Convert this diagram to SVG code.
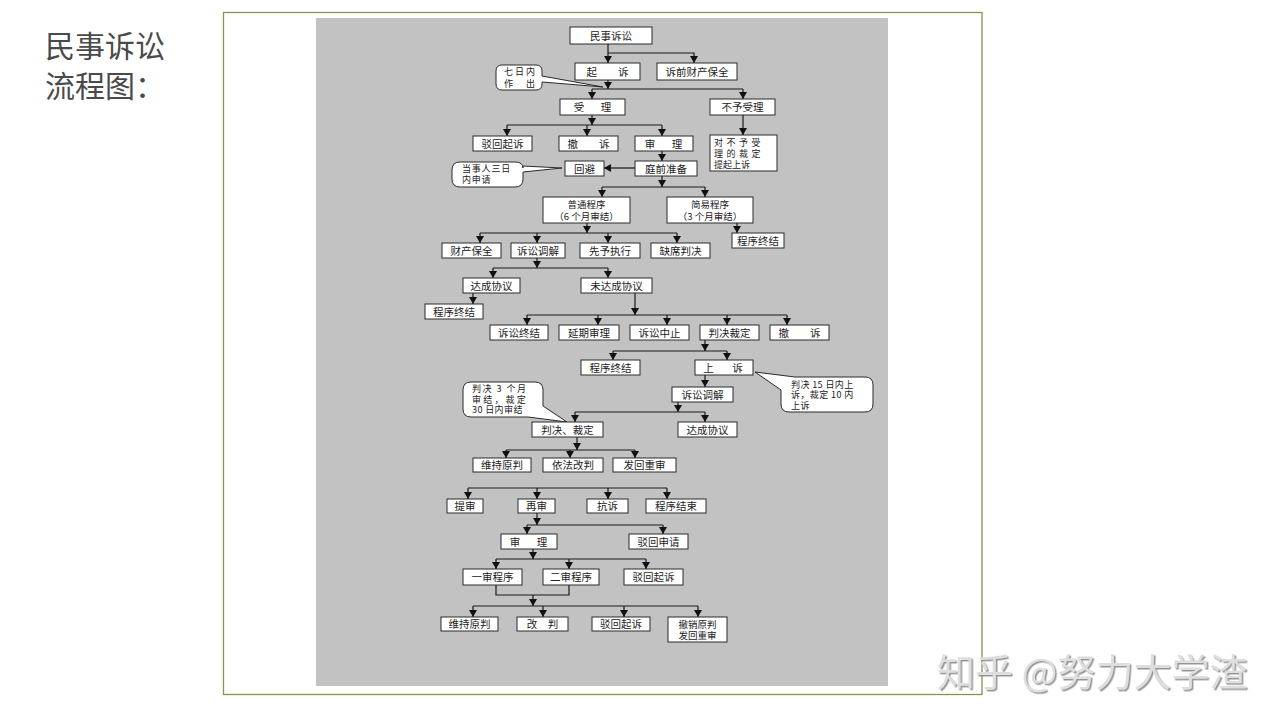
<svg xmlns="http://www.w3.org/2000/svg" width="1280" height="720" viewBox="0 0 1280 720">
<defs>
<marker id="ah" markerUnits="userSpaceOnUse" markerWidth="8" markerHeight="8" refX="7" refY="4" orient="auto" viewBox="0 0 8 8">
<path d="M0,0 L7,4 L0,8 Z" fill="#111"/>
</marker>
<filter id="ws" x="-5%" y="-20%" width="110%" height="140%">
<feDropShadow dx="1.5" dy="1.5" stdDeviation="0.6" flood-color="#8a8a8a" flood-opacity="0.9"/>
</filter>
<style>
.b{fill:#fff;stroke:#2a2a2a;stroke-width:1}
.t{font-family:"Noto Sans CJK SC","Noto Sans",sans-serif;font-size:10.5px;fill:#222;text-anchor:middle}
.t2{font-family:"Noto Sans CJK SC","Noto Sans",sans-serif;font-size:9.5px;fill:#222;text-anchor:middle}
.tl{font-family:"Noto Sans CJK SC","Noto Sans",sans-serif;font-size:9px;fill:#222}
.c{fill:none;stroke:#1a1a1a;stroke-width:1.2}
.a{marker-end:url(#ah)}
.ttl{font-family:"Noto Sans CJK SC","Noto Sans",sans-serif;font-size:30px;fill:#4a4a4a}
</style>
</defs>
<rect x="0" y="0" width="1280" height="720" fill="#fff"/>
<rect x="223.5" y="12.5" width="758.5" height="682" fill="#fff" stroke="#8a9150" stroke-width="1.3"/>
<rect x="316" y="18" width="572" height="668" fill="#c2c2c2"/>
<g id="title">
<text class="ttl" x="45" y="57">民事诉讼</text>
<text class="ttl" x="45" y="97">流程图：</text>
</g>
<g id="connectors">
<path class="c a" d="M608,44 V63"/>
<path class="c a" d="M608,53 H694 V63"/>
<path class="c a" d="M608,80 V89"/>
<path class="c" d="M592,89 H743"/>
<path class="c a" d="M592,89 V99"/>
<path class="c a" d="M743,89 V99"/>
<path class="c a" d="M592,115 V125"/>
<path class="c" d="M507,125 H662"/>
<path class="c a" d="M507,125 V136"/>
<path class="c a" d="M587,125 V136"/>
<path class="c a" d="M662,125 V136"/>
<path class="c a" d="M743,115 V135"/>
<path class="c a" d="M662,151 V161"/>
<path class="c a" d="M635,168 H604"/>
<path class="c a" d="M662,176 V187"/>
<path class="c" d="M602,187 H705"/>
<path class="c a" d="M602,187 V197"/>
<path class="c a" d="M705,187 V197"/>
<path class="c a" d="M587,223 V233"/>
<path class="c" d="M480,233 H677"/>
<path class="c a" d="M480,233 V243"/>
<path class="c a" d="M537,233 V243"/>
<path class="c a" d="M608,233 V243"/>
<path class="c a" d="M677,233 V243"/>
<path class="c a" d="M737,223 V233"/>
<path class="c a" d="M537,258 V268"/>
<path class="c" d="M493,268 H608"/>
<path class="c a" d="M493,268 V278"/>
<path class="c a" d="M608,268 V278"/>
<path class="c a" d="M473,293 V304"/>
<path class="c a" d="M635,293 V315"/>
<path class="c" d="M527,315 H787"/>
<path class="c a" d="M527,315 V325"/>
<path class="c a" d="M598,315 V325"/>
<path class="c a" d="M667,315 V325"/>
<path class="c a" d="M727,315 V325"/>
<path class="c a" d="M787,315 V325"/>
<path class="c a" d="M705,340 V351"/>
<path class="c" d="M613,351 H727"/>
<path class="c a" d="M613,351 V360"/>
<path class="c a" d="M727,351 V360"/>
<path class="c a" d="M705,375 V387"/>
<path class="c a" d="M678,402 V412"/>
<path class="c" d="M575,412 H705"/>
<path class="c a" d="M575,412 V422"/>
<path class="c a" d="M705,412 V422"/>
<path class="c a" d="M577,437 V450"/>
<path class="c" d="M506,450 H635"/>
<path class="c a" d="M506,450 V458"/>
<path class="c a" d="M570,450 V458"/>
<path class="c a" d="M635,450 V458"/>
<path class="c" d="M468,488 H667"/>
<path class="c a" d="M468,488 V499"/>
<path class="c a" d="M537,488 V499"/>
<path class="c a" d="M608,488 V499"/>
<path class="c a" d="M667,488 V499"/>
<path class="c a" d="M537,513 V525"/>
<path class="c" d="M527,525 H663"/>
<path class="c a" d="M527,525 V534"/>
<path class="c a" d="M663,525 V534"/>
<path class="c a" d="M533,549 V559"/>
<path class="c" d="M496,559 H646"/>
<path class="c a" d="M496,559 V569"/>
<path class="c a" d="M569,559 V569"/>
<path class="c a" d="M646,559 V569"/>
<path class="c" d="M496,585 V595 H569 V585"/>
<path class="c a" d="M533,595 V606"/>
<path class="c" d="M473,606 H698"/>
<path class="c a" d="M473,606 V617"/>
<path class="c a" d="M543,606 V617"/>
<path class="c a" d="M624,606 V617"/>
<path class="c a" d="M698,606 V617"/>
</g>
<g id="n-minshi"><rect class="b" x="570" y="27" width="82" height="17"/><text class="t" x="611" y="39.5">民事诉讼</text></g>
<g id="n-qisu"><rect class="b" x="575" y="63" width="65" height="17"/><text class="t" x="607.5" y="75.5">起　　诉</text></g>
<g id="n-suqian"><rect class="b" x="657" y="63" width="80" height="17"/><text class="t" x="697" y="75.5">诉前财产保全</text></g>
<g id="callout-7days"><path class="b" d="M502,65 H536 Q542,65 542,71 V76 L603,87 L542,82 V84 Q542,90 536,90 H502 Q496,90 496,84 V71 Q496,65 502,65 Z"/><text class="tl" x="504" y="75" font-size="8.5" letter-spacing="2">七日内</text><text class="tl" x="504" y="86.5" font-size="8.5" letter-spacing="2">作　出</text></g>
<g id="n-shouli"><rect class="b" x="560" y="99" width="65" height="16"/><text class="t" x="594" y="111" letter-spacing="3">受　理</text></g>
<g id="n-buyu"><rect class="b" x="710" y="99" width="65" height="16"/><text class="t" x="742.5" y="111">不予受理</text></g>
<g id="n-bohui1"><rect class="b" x="473" y="136" width="59" height="15"/><text class="t" x="502.5" y="147.5">驳回起诉</text></g>
<g id="n-chesu1"><rect class="b" x="559" y="136" width="59" height="15"/><text class="t" x="588.5" y="147.5">撤　　诉</text></g>
<g id="n-shenli1"><rect class="b" x="635" y="136" width="58" height="15"/><text class="t" x="665" y="147.5" letter-spacing="3">审　理</text></g>
<g id="n-duibuyu"><rect class="b" x="710" y="135" width="67" height="36"/><text class="tl" x="714" y="146" font-size="9.5" letter-spacing="3.5">对不予受</text><text class="tl" x="714" y="157" font-size="9.5" letter-spacing="3.5">理的裁定</text><text class="tl" x="714" y="168" font-size="9.5">提起上诉</text></g>
<g id="callout-huibi"><path class="b" d="M460,162 H515 Q523,162 523,168 V166 L562,168 L523,172 V179 Q523,187 515,187 H460 Q452,187 452,179 V170 Q452,162 460,162 Z"/><text class="tl" x="462" y="172" letter-spacing="0.8">当事人三日</text><text class="tl" x="462" y="183" letter-spacing="0.8">内申请</text></g>
<g id="n-huibi"><rect class="b" x="565" y="161" width="39" height="15"/><text class="t" x="584.5" y="172.5">回避</text></g>
<g id="n-tingqian"><rect class="b" x="635" y="161" width="62" height="15"/><text class="t" x="666" y="172.5">庭前准备</text></g>
<g id="n-putong"><rect class="b" x="543" y="197" width="87" height="26"/><text class="t2" x="586.5" y="208">普通程序</text><text class="t2" x="586.5" y="219.5">（6 个月审结）</text></g>
<g id="n-jianyi"><rect class="b" x="667" y="197" width="86" height="26"/><text class="t2" x="710" y="208">简易程序</text><text class="t2" x="710" y="219.5">（3 个月审结）</text></g>
<g id="n-caichan"><rect class="b" x="442" y="243" width="59" height="15"/><text class="t" x="471.5" y="254.5">财产保全</text></g>
<g id="n-tiaojie1"><rect class="b" x="511" y="243" width="54" height="15"/><text class="t" x="538" y="254.5">诉讼调解</text></g>
<g id="n-xianyu"><rect class="b" x="580" y="243" width="60" height="15"/><text class="t" x="610" y="254.5">先予执行</text></g>
<g id="n-quexi"><rect class="b" x="651" y="243" width="59" height="15"/><text class="t" x="680.5" y="254.5">缺席判决</text></g>
<g id="n-zhongjie-r"><rect class="b" x="732" y="233" width="52" height="15"/><text class="t" x="758" y="244.5">程序终结</text></g>
<g id="n-dacheng1"><rect class="b" x="463" y="278" width="57" height="15"/><text class="t" x="491.5" y="289.5">达成协议</text></g>
<g id="n-weidacheng"><rect class="b" x="581" y="278" width="71" height="15"/><text class="t" x="616.5" y="289.5">未达成协议</text></g>
<g id="n-zhongjie-l"><rect class="b" x="425" y="304" width="58" height="15"/><text class="t" x="454" y="315.5">程序终结</text></g>
<g id="n-susongzhongjie"><rect class="b" x="490" y="325" width="58" height="15"/><text class="t" x="519" y="336.5">诉讼终结</text></g>
<g id="n-yanqi"><rect class="b" x="559" y="325" width="60" height="15"/><text class="t" x="589" y="336.5">延期审理</text></g>
<g id="n-zhongzhi"><rect class="b" x="630" y="325" width="59" height="15"/><text class="t" x="659.5" y="336.5">诉讼中止</text></g>
<g id="n-panjue1"><rect class="b" x="700" y="325" width="59" height="15"/><text class="t" x="729.5" y="336.5">判决裁定</text></g>
<g id="n-chesu2"><rect class="b" x="770" y="325" width="59" height="15"/><text class="t" x="799.5" y="336.5">撤　　诉</text></g>
<g id="n-zhongjie-m"><rect class="b" x="581" y="360" width="59" height="15"/><text class="t" x="610.5" y="371.5">程序终结</text></g>
<g id="n-shangsu"><rect class="b" x="695" y="360" width="58" height="15"/><text class="t" x="725" y="371.5" letter-spacing="4">上　诉</text></g>
<g id="callout-shangsu"><path class="b" d="M781,390 L755,372 L795,377 H865 Q873,377 873,385 V404 Q873,412 865,412 H789 Q781,412 781,404 Z"/><text class="tl" x="791" y="387.5" letter-spacing="0.4">判决 15 日内上</text><text class="tl" x="791" y="398" letter-spacing="0.4">诉，裁定 10 内</text><text class="tl" x="791" y="408.5" letter-spacing="0.4">上诉</text></g>
<g id="n-tiaojie2"><rect class="b" x="672" y="387" width="61" height="15"/><text class="t" x="702.5" y="398.5">诉讼调解</text></g>
<g id="callout-panjue"><path class="b" d="M471,382 H535 Q543,382 543,390 V406 L567,422 L528,417 H471 Q463,417 463,409 V390 Q463,382 471,382 Z"/><text class="tl" x="472" y="392" letter-spacing="1.5">判决 3 个月</text><text class="tl" x="472" y="402.5" letter-spacing="2.2">审结，裁定</text><text class="tl" x="472" y="413" letter-spacing="0.4">30 日内审结</text></g>
<g id="n-panjue2"><rect class="b" x="532" y="422" width="71" height="15"/><text class="t" x="567.5" y="433.5">判决、裁定</text></g>
<g id="n-dacheng2"><rect class="b" x="678" y="422" width="59" height="15"/><text class="t" x="707.5" y="433.5">达成协议</text></g>
<g id="n-weichi1"><rect class="b" x="473" y="458" width="58" height="14"/><text class="t" x="502" y="469">维持原判</text></g>
<g id="n-yifa"><rect class="b" x="543" y="458" width="60" height="14"/><text class="t" x="573" y="469">依法改判</text></g>
<g id="n-fahui1"><rect class="b" x="613" y="458" width="63" height="14"/><text class="t" x="644.5" y="469">发回重审</text></g>
<g id="n-tishen"><rect class="b" x="447" y="499" width="36" height="14"/><text class="t" x="465" y="510">提审</text></g>
<g id="n-zaishen"><rect class="b" x="518" y="499" width="37" height="14"/><text class="t" x="536.5" y="510">再审</text></g>
<g id="n-kangsu"><rect class="b" x="587" y="499" width="41" height="14"/><text class="t" x="607.5" y="510">抗诉</text></g>
<g id="n-jieshu"><rect class="b" x="646" y="499" width="60" height="14"/><text class="t" x="676" y="510">程序结束</text></g>
<g id="n-shenli2"><rect class="b" x="501" y="534" width="56" height="15"/><text class="t" x="530" y="545.5" letter-spacing="3">审　理</text></g>
<g id="n-bohuishenqing"><rect class="b" x="629" y="534" width="59" height="15"/><text class="t" x="658.5" y="545.5">驳回申请</text></g>
<g id="n-yishen"><rect class="b" x="463" y="569" width="59" height="16"/><text class="t" x="492.5" y="581">一审程序</text></g>
<g id="n-ershen"><rect class="b" x="543" y="569" width="56" height="16"/><text class="t" x="571" y="581">二审程序</text></g>
<g id="n-bohui2"><rect class="b" x="624" y="569" width="59" height="16"/><text class="t" x="653.5" y="581">驳回起诉</text></g>
<g id="n-weichi2"><rect class="b" x="441" y="617" width="57" height="14"/><text class="t" x="469.5" y="628">维持原判</text></g>
<g id="n-gaipan"><rect class="b" x="517" y="617" width="51" height="14"/><text class="t" x="542.5" y="628">改　判</text></g>
<g id="n-bohui3"><rect class="b" x="592" y="617" width="58" height="14"/><text class="t" x="621" y="628">驳回起诉</text></g>
<g id="n-chexiao"><rect class="b" x="668" y="617" width="59" height="25"/><text class="t2" x="697.5" y="627.5">撤销原判</text><text class="t2" x="697.5" y="639">发回重审</text></g>
<g id="watermark"><text x="937" y="686" font-family="Noto Sans CJK SC, sans-serif" font-size="38" fill="#dedede" filter="url(#ws)">知乎 @努力大学渣</text></g>
</svg>
